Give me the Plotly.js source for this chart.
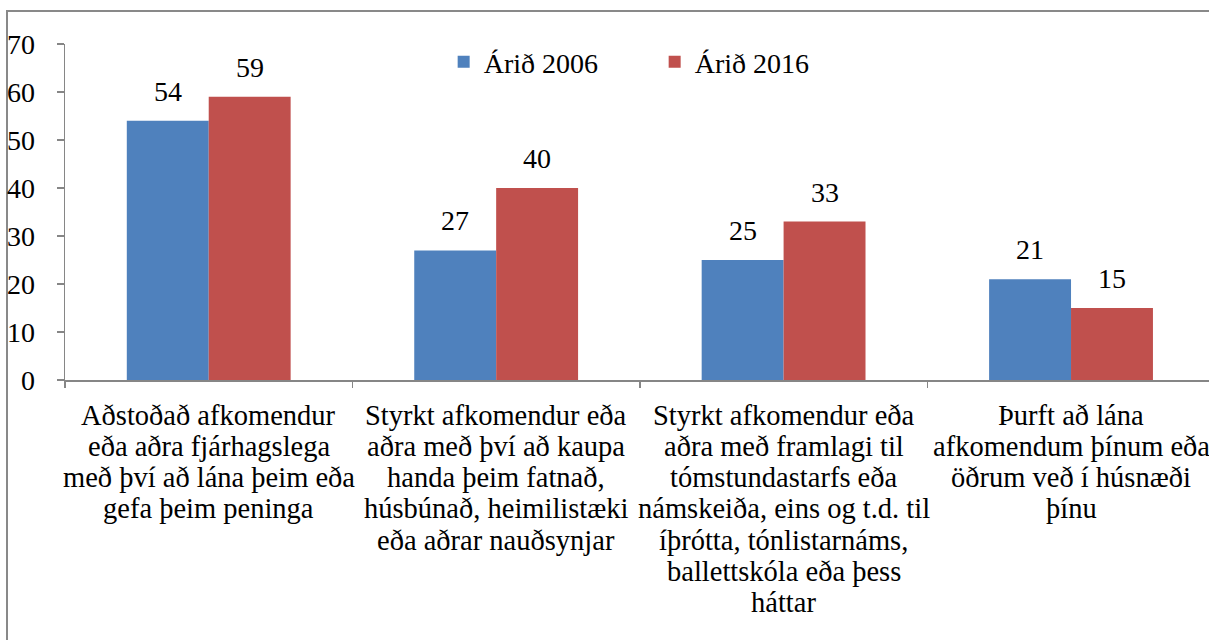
<!DOCTYPE html>
<html>
<head>
<meta charset="utf-8">
<script src="https://cdn.plot.ly/plotly-3.0.1.min.js"></script>
<style>
  html, body { margin: 0; padding: 0; background: #fff; overflow: hidden; }
  #frame { position: absolute; left: 6px; top: 10px; width: 1300px; height: 700px;
           border-left: 2px solid #898989; border-top: 2px solid #898989; }
  #chart { position: absolute; left: 0; top: 0; width: 1209px; height: 640px; }
</style>
</head>
<body>
<div id="frame"></div>
<div id="chart"></div>
<script>
const categories = [
  "Aðstoðað afkomendur<br>eða aðra fjárhagslega<br>með því að lána þeim eða<br>gefa þeim peninga",
  "Styrkt afkomendur eða<br>aðra með því að kaupa<br>handa þeim fatnað,<br>húsbúnað, heimilistæki<br>eða aðrar nauðsynjar",
  "Styrkt afkomendur eða<br>aðra með framlagi til<br>tómstundastarfs eða<br>námskeiða, eins og t.d. til<br>íþrótta, tónlistarnáms,<br>ballettskóla eða þess<br>háttar",
  "Þurft að lána<br>afkomendum þínum eða<br>öðrum veð í húsnæði<br>þínu"
];
const series2006 = [54, 27, 25, 21];
const series2016 = [59, 40, 33, 15];
const seriesNames = ["Árið 2006", "Árið 2016"];
const yTicks = [0, 10, 20, 30, 40, 50, 60, 70];

const FONT = "Liberation Serif, Times New Roman, serif";
const idx = categories.map((c, i) => i);

const traces = [
  { type: 'bar', name: seriesNames[0], x: idx, y: series2006,
    marker: { color: '#4F81BD' }, hoverinfo: 'none' },
  { type: 'bar', name: seriesNames[1], x: idx, y: series2016,
    marker: { color: '#C0504D' }, hoverinfo: 'none' }
];

const annotations = [];
[series2006, series2016].forEach((ser, s) => {
  ser.forEach((v, i) => {
    annotations.push({
      x: i, y: v, xref: 'x', yref: 'y', text: String(v), showarrow: false,
      xanchor: 'center', yanchor: 'bottom', xshift: s === 0 ? -41 : 41, yshift: 12,
      font: { family: FONT, size: 28, color: '#000' }
    });
  });
});
categories.forEach((c, i) => {
  c.split('<br>').forEach((line, j) => {
    annotations.push({
      x: i, y: 0, xref: 'x', yref: 'y', text: line, showarrow: false,
      xanchor: 'center', yanchor: 'middle', yshift: -35 - j * 31.3,
      font: { family: FONT, size: 28.5, color: '#000' }
    });
  });
});

const layout = {
  width: 1209, height: 640,
  margin: { l: 65, r: 0, t: 44, b: 260, pad: 0 },
  paper_bgcolor: 'rgba(0,0,0,0)', plot_bgcolor: 'rgba(0,0,0,0)',
  font: { family: FONT },
  barmode: 'group', bargap: 0.43, bargroupgap: 0,
  showlegend: true,
  legend: { orientation: 'h', x: 0.331, xanchor: 'left', y: 0.946, yanchor: 'middle',
            font: { family: FONT, size: 28, color: '#000' }, bgcolor: 'rgba(0,0,0,0)',
            entrywidth: 166 },
  xaxis: {
    type: 'linear', range: [-0.5, 3.48], showgrid: false, zeroline: false,
    tickmode: 'array', tickvals: [-0.5, 0.5, 1.5, 2.5, 3.5], showticklabels: false,
    ticks: 'outside', ticklen: 6, tickcolor: '#868686', tickwidth: 1.5,
    showline: true, linecolor: '#868686', linewidth: 1.5, fixedrange: true
  },
  yaxis: {
    range: [0, 70], tickmode: 'array', tickvals: yTicks, ticktext: yTicks.map(String),
    showgrid: false, zeroline: false, ticks: 'outside', ticklen: 7,
    tickcolor: '#868686', tickwidth: 1.5, showline: true, linecolor: '#868686', linewidth: 1.5,
    tickfont: { family: FONT, size: 28, color: '#000' }, ticklabelstandoff: 16, fixedrange: true
  },
  annotations: annotations
};

Plotly.newPlot('chart', traces, layout, { staticPlot: true, displayModeBar: false });
</script>
</body>
</html>
